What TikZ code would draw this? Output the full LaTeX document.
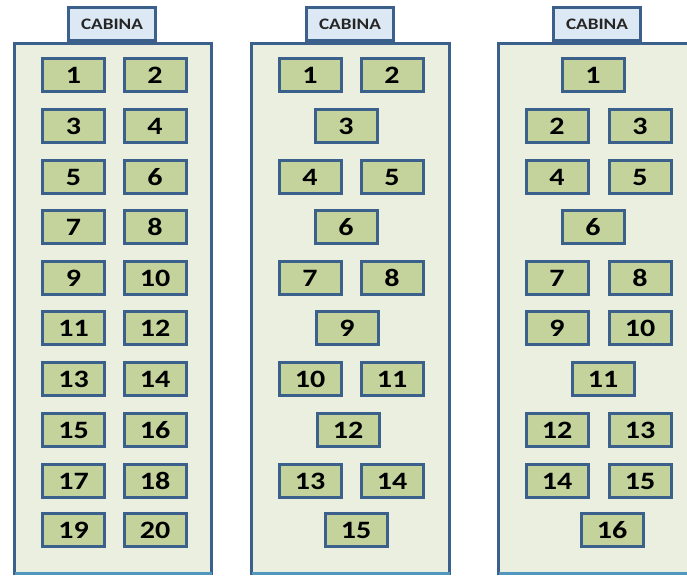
\documentclass[tikz,border=0pt]{standalone}
\usepackage{fontspec}
\setmainfont[FakeStretch=1.2]{Carlito}
\usepackage{xcolor}
\usetikzlibrary{positioning}

\definecolor{cabinfill}{RGB}{235,239,223}
\definecolor{frameblue}{RGB}{60,96,140}
\definecolor{seatgreen}{RGB}{196,211,155}
\definecolor{tabblue}{RGB}{220,232,243}
\definecolor{edgeteal}{RGB}{80,150,190}

\begin{document}
\begin{tikzpicture}[
        x=1pt, y=-1pt,
        cabin/.style={fill=cabinfill, draw=frameblue, line width=3pt},
        tab/.style={rectangle, fill=tabblue, draw=frameblue, line width=3pt, minimum width=87pt, minimum height=33pt, inner sep=0pt, font=\bfseries\fontsize{16}{16}\selectfont, text=black!85},
        seat/.style={rectangle, fill=seatgreen, draw=frameblue, line width=3pt, minimum width=62pt, minimum height=33pt, inner sep=0pt, font=\bfseries\fontsize{25}{25}\selectfont, text=black},
        bottomedge/.style={draw=edgeteal, line width=3pt}
    ]

    \clip (0,0) rectangle (687,575);
    \fill[white] (0,0) rectangle (687,575);

        % first cabin: twenty seats in pairs
        \begin{scope}
            \draw[cabin] (14.5,43.5) rectangle (211.5,573);
            \draw[bottomedge] (14.5,573) -- (211.5,573);
            \node[tab] (tabA) at (112,24.5) {CABINA};

            \node[seat] (a1) at (73.5,75) {1};
            \node[seat] (a2) at (155,75) {2};
            \node[seat] (a3) at (73.5,126) {3};
            \node[seat] (a4) at (155,126) {4};
            \node[seat] (a5) at (73.5,177) {5};
            \node[seat] (a6) at (155,177) {6};
            \node[seat] (a7) at (73.5,227) {7};
            \node[seat] (a8) at (155,227) {8};
            \node[seat] (a9) at (73.5,278) {9};
            \node[seat] (a10) at (155,278) {10};
            \node[seat] (a11) at (73.5,328) {11};
            \node[seat] (a12) at (155,328) {12};
            \node[seat] (a13) at (73.5,379) {13};
            \node[seat] (a14) at (155,379) {14};
            \node[seat] (a15) at (73.5,430) {15};
            \node[seat] (a16) at (155,430) {16};
            \node[seat] (a17) at (73.5,481) {17};
            \node[seat] (a18) at (155,481) {18};
            \node[seat] (a19) at (73.5,530) {19};
            \node[seat] (a20) at (155,530) {20};
        \end{scope}

        % second cabin: pairs and singles
        \begin{scope}
            \draw[cabin] (251.5,43.5) rectangle (449.5,573);
            \draw[bottomedge] (251.5,573) -- (449.5,573);
            \node[tab] (tabB) at (350,24.5) {CABINA};

            \node[seat] (b1) at (310,75) {1};
            \node[seat] (b2) at (392,75) {2};
            \node[seat] (b3) at (346,126) {3};
            \node[seat] (b4) at (310,177) {4};
            \node[seat] (b5) at (392,177) {5};
            \node[seat] (b6) at (346,227) {6};
            \node[seat] (b7) at (310,278) {7};
            \node[seat] (b8) at (392,278) {8};
            \node[seat] (b9) at (347,328) {9};
            \node[seat] (b10) at (310,379) {10};
            \node[seat] (b11) at (392,379) {11};
            \node[seat] (b12) at (348,430) {12};
            \node[seat] (b13) at (310,481) {13};
            \node[seat] (b14) at (392,481) {14};
            \node[seat] (b15) at (356,530) {15};
        \end{scope}

        % third cabin
        \begin{scope}
            \draw[cabin] (498.5,43.5) rectangle (700,573);
            \draw[bottomedge] (498.5,573) -- (700,573);
            \node[tab] (tabC) at (597,24.5) {CABINA};

            \node[seat] (c1) at (593,75) {1};
            \node[seat] (c2) at (557,126) {2};
            \node[seat] (c3) at (640,126) {3};
            \node[seat] (c4) at (557,177) {4};
            \node[seat] (c5) at (640,177) {5};
            \node[seat] (c6) at (593,227) {6};
            \node[seat] (c7) at (557,278) {7};
            \node[seat] (c8) at (640,278) {8};
            \node[seat] (c9) at (557,328) {9};
            \node[seat] (c10) at (640,328) {10};
            \node[seat] (c11) at (603,379) {11};
            \node[seat] (c12) at (557,430) {12};
            \node[seat] (c13) at (640,430) {13};
            \node[seat] (c14) at (557,481) {14};
            \node[seat] (c15) at (640,481) {15};
            \node[seat] (c16) at (612,530) {16};
        \end{scope}

    \end{tikzpicture}
\end{document}
